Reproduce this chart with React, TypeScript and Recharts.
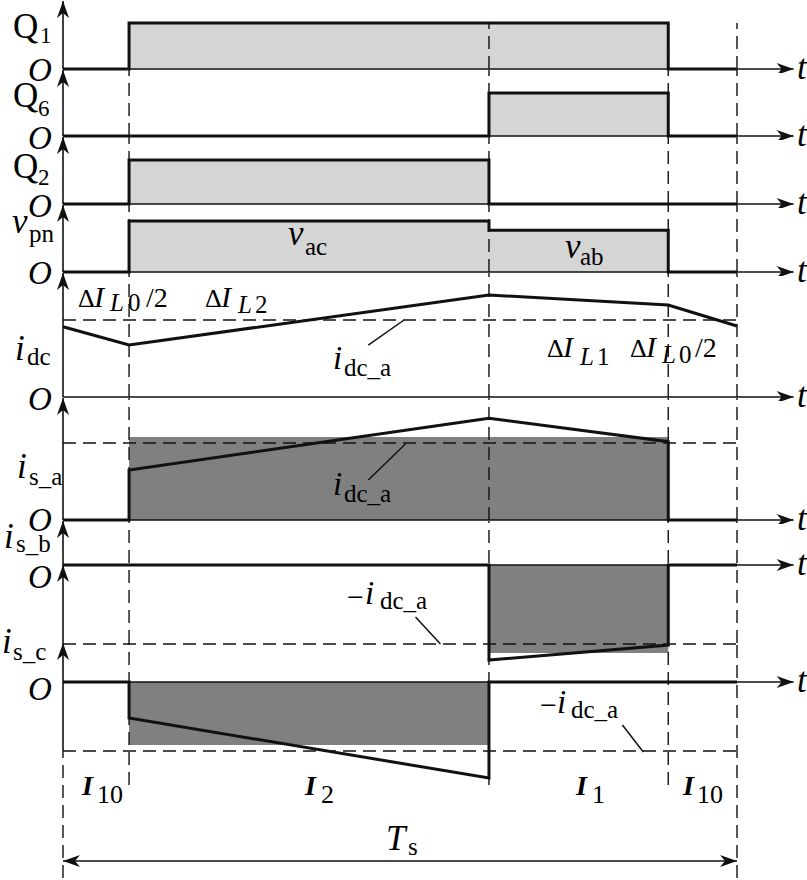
import React from "react";
import { ComposedChart, Area, Line, XAxis, YAxis, ReferenceLine } from "recharts";

// switching instants, period Ts = 100
const edges = [9.8, 63.2, 89.8, 100];

// gate signals and v_pn (1 = on / v_ac)
const q1Wave = [[0, 0], [9.8, 0], [9.8, 1], [89.8, 1], [89.8, 0], [100, 0]];
const q6Wave = [[0, 0], [63.2, 0], [63.2, 1], [89.8, 1], [89.8, 0], [100, 0]];
const q2Wave = [[0, 0], [9.8, 0], [9.8, 1], [63.2, 1], [63.2, 0], [100, 0]];
const vpnWave = [[0, 0], [9.8, 0], [9.8, 1], [63.2, 1], [63.2, 0.82], [89.8, 0.82], [89.8, 0], [100, 0]];

// currents, in units of i_dc_a
const idcAvg = 1;
const idcWave = [[0, 0.913], [9.8, 0.675], [63.2, 1.325], [89.8, 1.195], [100, 0.922]];
const isaWave = [[0, 0], [9.8, 0], [9.8, 0.649], [63.2, 1.32], [89.8, 1.017], [89.8, 0], [100, 0]];
const isaBlock = [[9.8, 1.078], [89.8, 1.078]];
const isbWave = [[0, 0], [63.2, 0], [63.2, -1.203], [89.8, -1.013], [89.8, 0], [100, 0]];
const isbBlock = [[63.2, -1.114], [89.8, -1.114]];
const iscWave = [[0, 0], [9.8, 0], [9.8, -0.522], [63.2, -1.391], [63.2, 0], [100, 0]];
const iscBlock = [[9.8, -0.913], [63.2, -0.913]];

// pointer lines next to the i_dc_a labels
const leaderIdc = [[45.3, 0.675], [50.6, 1.0]];
const leaderIsa = [[45.3, 0.519], [50.8, 0.987]];
const leaderIsb = [[52.3, -0.658], [56.0, -1.0]];
const leaderIsc = [[83.0, -0.623], [86.1, -1.014]];

// layout
const W = 807;
const X0 = 63;
const PX_PER_T = 6.74;
const T_MAX = 110;
const T_ARROW = 108.4;
const PAD_T = 2;
const PAD_B = 4;
const STROKE = "#111";
const LIGHT = "#d5d5d5";
const DARK = "#808080";
const DASH = "13 7";
const FONT = "'Liberation Serif', 'Times New Roman', serif";

type Spec = { top: number; base: number; bottom: number; unit: number };
const panels: Spec[] = [
  { top: 1, base: 69, bottom: 69, unit: 46 }, // Q1
  { top: 70, base: 136, bottom: 136, unit: 43 }, // Q6
  { top: 137, base: 204, bottom: 204, unit: 44 }, // Q2
  { top: 205, base: 272, bottom: 272, unit: 51 }, // v_pn
  { top: 273, base: 397, bottom: 397, unit: 77 }, // i_dc
  { top: 398, base: 520, bottom: 520, unit: 77 }, // i_s_a
  { top: 521, base: 565, bottom: 664, unit: 79 }, // i_s_b
  { top: 643, base: 682, bottom: 878, unit: 69 }, // i_s_c
];

const pts = (a: number[][]) => a.map(([t, v]) => ({ t, v }));

const head = (tx: number, ty: number, dx: number, dy: number) => {
  const len = Math.hypot(dx, dy) || 1;
  const ux = dx / len;
  const uy = dy / len;
  const nx = -uy;
  const ny = ux;
  const L = 17;
  const H = 6;
  const N = 5;
  const bx = tx - ux * L;
  const by = ty - uy * L;
  const mx = tx - ux * (L - N);
  const my = ty - uy * (L - N);
  return `${tx},${ty} ${bx + nx * H},${by + ny * H} ${mx},${my} ${bx - nx * H},${by - ny * H}`;
};

const arrowShape = (both: boolean) => (p: any) => (
  <g>
    <line x1={p.x1} y1={p.y1} x2={p.x2} y2={p.y2} stroke={STROKE} strokeWidth={1.6} />
    <polygon points={head(p.x2, p.y2, p.x2 - p.x1, p.y2 - p.y1)} fill={STROKE} />
    {both && <polygon points={head(p.x1, p.y1, p.x1 - p.x2, p.y1 - p.y2)} fill={STROKE} />}
  </g>
);

const vGuides = (ts: number[], y1: number, y2: number, key: string) =>
  ts.map((t) => (
    <ReferenceLine
      key={`${key}-${t}`}
      segment={[{ x: t, y: y1 }, { x: t, y: y2 }]}
      stroke={STROKE}
      strokeWidth={1.4}
      strokeDasharray={DASH}
      ifOverflow="visible"
    />
  ));

const hGuide = (y: number) => (
  <ReferenceLine
    key="hguide"
    segment={[{ x: 0, y }, { x: 100, y }]}
    stroke={STROKE}
    strokeWidth={1.4}
    strokeDasharray={DASH}
    ifOverflow="visible"
  />
);

const axisV = (from: number, to: number, key: string) => (
  <ReferenceLine key={key} segment={[{ x: 0, y: from }, { x: 0, y: to }]} shape={arrowShape(false)} ifOverflow="visible" />
);
const axisH = () => (
  <ReferenceLine key="axh" segment={[{ x: 0, y: 0 }, { x: T_ARROW, y: 0 }]} shape={arrowShape(false)} ifOverflow="visible" />
);

const leader = (a: number[][]) => (
  <ReferenceLine
    key="leader"
    segment={[{ x: a[0][0], y: a[0][1] }, { x: a[1][0], y: a[1][1] }]}
    stroke={STROKE}
    strokeWidth={1.5}
    ifOverflow="visible"
  />
);

const wave = (a: number[][]) => (
  <Line
    key="wave"
    data={pts(a)}
    dataKey="v"
    type="linear"
    stroke={STROKE}
    strokeWidth={3}
    dot={false}
    activeDot={false}
    isAnimationActive={false}
  />
);

const block = (a: number[][], fill: string, outlined: boolean) => (
  <Area
    key="block"
    data={pts(a)}
    dataKey="v"
    type="linear"
    stroke={outlined ? STROKE : "none"}
    strokeWidth={3}
    fill={fill}
    fillOpacity={1}
    baseValue={0}
    dot={false}
    activeDot={false}
    isAnimationActive={false}
  />
);

type RenderFn = (lo: number, hi: number, val: (py: number) => number) => React.ReactNode;

function Panel({ spec, render }: { spec: Spec; render: RenderFn }) {
  const { top, base, bottom, unit } = spec;
  const hi = (base - top) / unit;
  const lo = -(bottom - base) / unit;
  const val = (py: number) => (base - py) / unit;
  const plotW = T_MAX * PX_PER_T;
  return (
    <div style={{ position: "absolute", left: 0, top: top - PAD_T }}>
      <ComposedChart
        width={W}
        height={bottom - top + PAD_T + PAD_B}
        margin={{ top: PAD_T, right: W - X0 - plotW, bottom: PAD_B, left: X0 }}
      >
        <XAxis type="number" dataKey="t" domain={[0, T_MAX]} hide />
        <YAxis type="number" domain={[lo, hi]} hide />
        {render(lo, hi, val)}
      </ComposedChart>
    </div>
  );
}

// text pieces: [text, x, baseline, size, style]  style: "" upright, "i" italic, "b" bold italic
type Piece = [string, number, number, number, string];
const pieces: Piece[] = [
  ["Q", 13, 38, 35, ""], ["1", 40, 43, 23, ""],
  ["O", 28, 81, 33, "i"],
  ["Q", 13, 107, 35, ""], ["6", 38, 116, 23, ""],
  ["O", 28, 149, 33, "i"],
  ["Q", 13, 178, 35, ""], ["2", 38, 185, 23, ""],
  ["O", 28, 217, 33, "i"],
  ["v", 12, 233, 35, "i"], ["pn", 29, 242, 25, ""],
  ["O", 28, 284, 33, "i"],
  ["i", 15, 360, 35, "i"], ["dc", 27, 365, 25, ""],
  ["O", 28, 410, 33, "i"],
  ["i", 17, 478, 35, "i"], ["s_a", 29, 485, 25, ""],
  ["O", 28, 531, 33, "i"],
  ["i", 4, 548, 35, "i"], ["s_b", 16, 552, 25, ""],
  ["O", 28, 588, 33, "i"],
  ["i", 2, 653, 35, "i"], ["s_c", 13, 660, 25, ""],
  ["O", 28, 700, 33, "i"],
  ["v", 288, 245, 35, "i"], ["ac", 305, 255, 25, ""],
  ["v", 565, 258, 35, "i"], ["ab", 580, 265, 25, ""],
  ["Δ", 78, 307, 26, ""], ["I", 94, 307, 30, "i"], ["L", 110, 311, 25, "i"], ["0", 128, 311, 25, ""], ["/2", 146, 307, 28, ""],
  ["Δ", 205, 307, 26, ""], ["I", 221, 307, 30, "i"], ["L", 238, 313, 25, "i"], ["2", 255, 313, 25, ""],
  ["Δ", 547, 357, 26, ""], ["I", 563, 357, 30, "i"], ["L", 580, 365, 25, "i"], ["1", 597, 365, 25, ""],
  ["Δ", 630, 357, 26, ""], ["I", 646, 357, 30, "i"], ["L", 662, 363, 25, "i"], ["0", 679, 363, 25, ""], ["/2", 695, 357, 28, ""],
  ["i", 333, 369, 33, "i"], ["dc_a", 344, 376, 25, ""],
  ["i", 333, 495, 33, "i"], ["dc_a", 344, 502, 25, ""],
  ["−", 347, 607, 30, ""], ["i", 365, 604, 33, "i"], ["dc_a", 380, 609, 25, ""],
  ["−", 540, 715, 30, ""], ["i", 557, 713, 33, "i"], ["dc_a", 571, 718, 25, ""],
  ["I", 82, 795, 28, "b"], ["10", 97, 803, 26, ""],
  ["I", 305, 795, 28, "b"], ["2", 321, 803, 26, ""],
  ["I", 576, 795, 28, "b"], ["1", 592, 803, 26, ""],
  ["I", 683, 795, 28, "b"], ["10", 697, 803, 26, ""],
  ["T", 386, 850, 35, "i"], ["s", 408, 855, 25, ""],
];

export default function App() {
  const [sQ1, sQ6, sQ2, sVpn, sIdc, sIsa, sIsb, sIsc] = panels;
  return (
    <div
      style={{ position: "absolute", left: 0, top: 0, width: W, height: 880, overflow: "hidden", background: "#fff" }}
    >
      <Panel
        spec={sQ1}
        render={(lo, hi) => [
          block(q1Wave, LIGHT, true),
          ...vGuides(edges, 0, 1, "g"),
          axisV(0, hi, "axv"),
          axisH(),
        ]}
      />
      {[
        [sQ6, q6Wave],
        [sQ2, q2Wave],
        [sVpn, vpnWave],
      ].map(([s, w], i) => (
        <Panel
          key={i}
          spec={s as Spec}
          render={(lo, hi) => [
            block(w as number[][], LIGHT, true),
            ...vGuides(edges, 0, hi, "g"),
            axisV(0, hi, "axv"),
            axisH(),
          ]}
        />
      ))}
      <Panel
        spec={sIdc}
        render={(lo, hi) => [
          ...vGuides(edges, 0, hi, "g"),
          hGuide(idcAvg),
          wave(idcWave),
          leader(leaderIdc),
          axisV(0, hi, "axv"),
          axisH(),
        ]}
      />
      <Panel
        spec={sIsa}
        render={(lo, hi) => [
          block(isaBlock, DARK, false),
          ...vGuides(edges, 0, hi, "g"),
          hGuide(idcAvg),
          wave(isaWave),
          leader(leaderIsa),
          axisV(0, hi, "axv"),
          axisH(),
        ]}
      />
      <Panel
        spec={sIsb}
        render={(lo, hi, val) => [
          block(isbBlock, DARK, false),
          ...vGuides(edges, val(643), hi, "g"),
          hGuide(-idcAvg),
          wave(isbWave),
          leader(leaderIsb),
          axisV(val(643), 0, "axv0"),
          axisV(0, hi, "axv"),
          axisH(),
        ]}
      />
      <Panel
        spec={sIsc}
        render={(lo, hi, val) => [
          block(iscBlock, DARK, false),
          ...vGuides(edges.slice(0, 3), val(785), hi, "g"),
          ...vGuides([edges[3]], lo, hi, "gs"),
          ...vGuides([0], lo, -idcAvg, "g0"),
          hGuide(-idcAvg),
          wave(iscWave),
          leader(leaderIsc),
          axisV(-idcAvg, hi, "axv"),
          axisH(),
          <ReferenceLine
            key="ts"
            segment={[{ x: 0, y: val(861) }, { x: 100, y: val(861) }]}
            shape={arrowShape(true)}
            ifOverflow="visible"
          />,
        ]}
      />
      <svg
        width={W}
        height={880}
        style={{ position: "absolute", left: 0, top: 0, pointerEvents: "none" }}
        fontFamily={FONT}
        fill="#000"
      >
        {pieces.map(([s, x, y, size, st], i) => (
          <text
            key={i}
            x={x}
            y={y}
            fontSize={size}
            fontStyle={st ? "italic" : "normal"}
            fontWeight={st === "b" ? "bold" : "normal"}
          >
            {s}
          </text>
        ))}
        {panels.map((p, i) => (
          <text key={`t${i}`} x={797} y={p.base + 10} fontSize={35} fontStyle="italic">
            t
          </text>
        ))}
      </svg>
    </div>
  );
}
